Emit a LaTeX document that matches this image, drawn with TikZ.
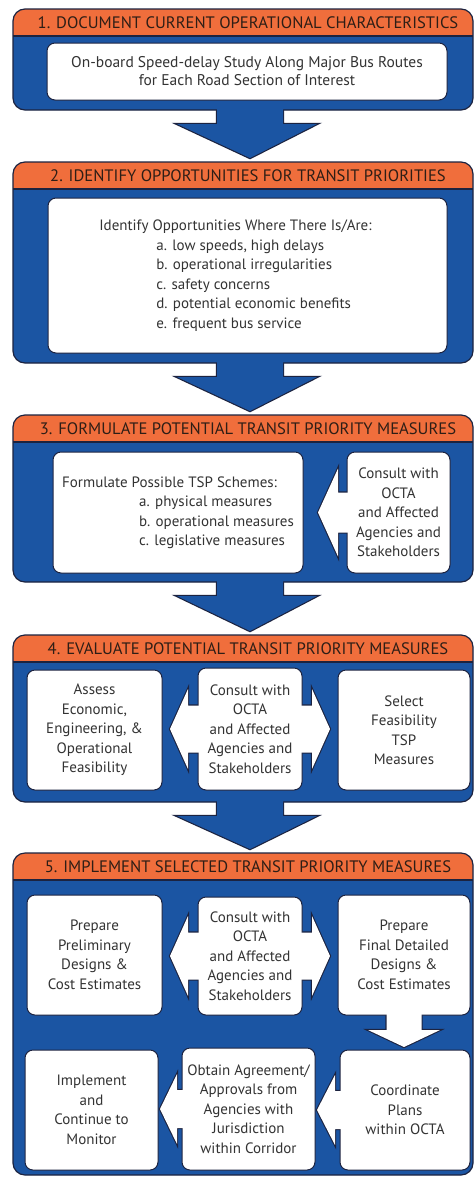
\documentclass[tikz,border=0pt]{standalone}
\usepackage{fontspec}
\setmainfont{PT Sans}
\usetikzlibrary{calc}
\definecolor{hdr}{HTML}{F06E3C}
\definecolor{pnl}{HTML}{1B55A3}
\definecolor{edge}{HTML}{1C2340}
\definecolor{txt}{HTML}{333333}
\definecolor{htxt}{HTML}{2E1E16}
\pgfdeclarelayer{bg}\pgfdeclarelayer{l0}\pgfdeclarelayer{l1}\pgfdeclarelayer{l2}\pgfdeclarelayer{l3}\pgfdeclarelayer{l4}
\pgfsetlayers{bg,l0,l1,l2,l3,main,l4}
\tikzset{
  panelnode/.style={fill=pnl, draw=none, rounded corners=12pt, minimum width=460pt, inner sep=0pt, outer sep=0pt},
  edgeline/.style={draw=edge, line width=1.2pt},
  hdrtext/.style={font=\fontsize{16.6}{19}\selectfont, text=htxt, inner sep=0pt},
  wbox/.style={fill=white, draw=edge, line width=1pt, rounded corners=8pt, inner sep=0pt, outer sep=0pt,
     font=\fontsize{15}{19.5}\selectfont, text=txt, align=center},
  bigstroke/.style={draw=edge, line width=2.4pt},
  bigfill/.style={fill=pnl},
  smallstroke/.style={draw=edge, line width=2.2pt},
  smallfill/.style={fill=white}
}
% panel: name, cx, cy, height, header text
\newcommand\mkpanel[5]{%
 \begin{pgfonlayer}{l1}
 \node[panelnode, minimum height=#4pt] (#1) at (#2,#3) {};
 \begin{scope}
  \clip[rounded corners=12pt] (#1.north west) rectangle (#1.south east);
  \fill[hdr] (#1.north west) rectangle ($(#1.north east)+(0,27)$);
 \end{scope}
 \draw[edgeline] ($(#1.north west)+(0,27)$) -- ($(#1.north east)+(0,27)$);
 \draw[edgeline, rounded corners=12pt] (#1.north west) rectangle (#1.south east);
 \node[hdrtext] (#1h) at ($(#1.north)+(5,14)$) {#5};
 \end{pgfonlayer}}
% big arrow between panels: style, from panel, to panel
\newcommand\bigarrowshape[3]{%
 \path[#1] ($(#2.south)+(-26,-6)$) -- ($(#2.south)+(-26,14)$) -- ($(#2.south)+(-66,14)$)
   -- ($(#2.south |- #3.north)+(7,-4)$) -- ($(#2.south)+(74,14)$) -- ($(#2.south)+(40,14)$)
   -- ($(#2.south)+(40,-6)$) -- cycle;}
\newcommand\bigarrow[2]{%
 \begin{pgfonlayer}{l0}\bigarrowshape{bigstroke}{#1}{#2}\end{pgfonlayer}
 \begin{pgfonlayer}{l2}\bigarrowshape{bigfill}{#1}{#2}\end{pgfonlayer}}
% block arrows: style, src, tgt, gap, headlen, headhalf, shafthalf
\newcommand\shapeL[7]{%
 \path[#1] ($(#2.west)+(5,-#7)$) -- ($(#3.east |- #2.west)+(#4+#5,-#7)$) -- ($(#3.east |- #2.west)+(#4+#5,-#6)$)
   -- ($(#3.east |- #2.west)+(#4,0)$) -- ($(#3.east |- #2.west)+(#4+#5,#6)$) -- ($(#3.east |- #2.west)+(#4+#5,#7)$)
   -- ($(#2.west)+(5,#7)$) -- cycle;}
\newcommand\shapeR[7]{%
 \path[#1] ($(#2.east)+(-5,-#7)$) -- ($(#3.west |- #2.east)+(-#4-#5,-#7)$) -- ($(#3.west |- #2.east)+(-#4-#5,-#6)$)
   -- ($(#3.west |- #2.east)+(-#4,0)$) -- ($(#3.west |- #2.east)+(-#4-#5,#6)$) -- ($(#3.west |- #2.east)+(-#4-#5,#7)$)
   -- ($(#2.east)+(-5,#7)$) -- cycle;}
\newcommand\shapeD[7]{%
 \path[#1] ($(#2.south)+(-#7,-5)$) -- ($(#2.south |- #3.north)+(-#7,-#4-#5)$) -- ($(#2.south |- #3.north)+(-#6,-#4-#5)$)
   -- ($(#2.south |- #3.north)+(0,-#4)$) -- ($(#2.south |- #3.north)+(#6,-#4-#5)$) -- ($(#2.south |- #3.north)+(#7,-#4-#5)$)
   -- ($(#2.south)+(#7,-5)$) -- cycle;}
\newcommand\blockL[6]{%
 \begin{pgfonlayer}{l3}\shapeL{smallstroke}{#1}{#2}{#3}{#4}{#5}{#6}\end{pgfonlayer}
 \begin{pgfonlayer}{l4}\shapeL{smallfill}{#1}{#2}{#3}{#4}{#5}{#6}\end{pgfonlayer}}
\newcommand\blockR[6]{%
 \begin{pgfonlayer}{l3}\shapeR{smallstroke}{#1}{#2}{#3}{#4}{#5}{#6}\end{pgfonlayer}
 \begin{pgfonlayer}{l4}\shapeR{smallfill}{#1}{#2}{#3}{#4}{#5}{#6}\end{pgfonlayer}}
\newcommand\blockD[6]{%
 \begin{pgfonlayer}{l3}\shapeD{smallstroke}{#1}{#2}{#3}{#4}{#5}{#6}\end{pgfonlayer}
 \begin{pgfonlayer}{l4}\shapeD{smallfill}{#1}{#2}{#3}{#4}{#5}{#6}\end{pgfonlayer}}

\begin{document}
\begin{tikzpicture}[x=1pt,y=-1pt]
\useasboundingbox (0,0) rectangle (474,1178);
\begin{pgfonlayer}{bg}\fill[white] (0,0) rectangle (474,1178);\end{pgfonlayer}

% panels
\mkpanel{p1}{243}{59.5}{101}{1. DOCUMENT CURRENT OPERATIONAL CHARACTERISTICS}
\mkpanel{p2}{243}{262.5}{201}{2. IDENTIFY OPPORTUNITIES FOR TRANSIT PRIORITIES}
\mkpanel{p3}{243}{498.5}{167}{3. FORMULATE POTENTIAL TRANSIT PRIORITY MEASURES}
\mkpanel{p4}{243}{718.5}{167}{4. EVALUATE POTENTIAL TRANSIT PRIORITY MEASURES}
\mkpanel{p5}{243}{1014}{322}{5. IMPLEMENT SELECTED TRANSIT PRIORITY MEASURES}

% white boxes
\node[wbox, minimum width=400pt, minimum height=57pt, font=\fontsize{15.5}{18}\selectfont] (b1) at (247,71.5)
  {On-board Speed-delay Study Along Major Bus Routes\\for Each Road Section of Interest};
\node[wbox, minimum width=399pt, minimum height=155pt] (b2) at (247.5,275.5)
  {\begin{tabular}{@{}l@{\hspace{24pt}}}Identify Opportunities Where There Is/Are:\\
   \hspace*{57pt}a. low speeds, high delays\\
   \hspace*{57pt}b. operational irregularities\\
   \hspace*{57pt}c. safety concerns\\
   \hspace*{57pt}d. potential economic benefits\\
   \hspace*{57pt}e. frequent bus service\end{tabular}};
\node[wbox, minimum width=250pt, minimum height=121pt] (b3a) at (178,512.5)
  {\begin{tabular}{@{}l@{}}Formulate Possible TSP Schemes:\\
   \hspace*{77pt}a. physical measures\\
   \hspace*{77pt}b. operational measures\\
   \hspace*{77pt}c. legislative measures\end{tabular}};
\node[wbox, minimum width=103pt, minimum height=121pt] (b3b) at (398.5,512.5)
  {Consult with\\OCTA\\and Affected\\Agencies and\\Stakeholders};

\node[wbox, minimum width=135pt, minimum height=120pt] (b4a) at (94.5,730)
  {Assess\\Economic,\\Engineering, \&\\Operational\\Feasibility};
\node[wbox, minimum width=104pt, minimum height=122pt] (b4b) at (250,729)
  {Consult with\\OCTA\\and Affected\\Agencies and\\Stakeholders};
\node[wbox, minimum width=132pt, minimum height=120pt] (b4c) at (404,730)
  {Select\\Feasibility\\TSP\\Measures};

\node[wbox, minimum width=135pt, minimum height=120pt] (b5a) at (94.5,955)
  {Prepare\\Preliminary\\Designs \&\\Cost Estimates};
\node[wbox, minimum width=104pt, minimum height=118pt] (b5b) at (250,956)
  {Consult with\\OCTA\\and Affected\\Agencies and\\Stakeholders};
\node[wbox, minimum width=132pt, minimum height=120pt] (b5c) at (404,955)
  {Prepare\\Final Detailed\\Designs \&\\Cost Estimates};
\node[wbox, minimum width=130pt, minimum height=120pt] (b5d) at (405,1110)
  {Coordinate\\Plans\\within OCTA};
\node[wbox, minimum width=133pt, minimum height=122pt] (b5e) at (248.5,1109)
  {Obtain Agreement/\\Approvals from\\Agencies with\\Jurisdiction\\within Corridor};
\node[wbox, minimum width=133pt, minimum height=120pt] (b5f) at (91.5,1110)
  {Implement\\and\\Continue to\\Monitor};

% big arrows between stages
\bigarrow{p1}{p2}
\bigarrow{p2}{p3}
\bigarrow{p3}{p4}
\bigarrow{p4}{p5}

% small block arrows
\blockL{b3b}{b3a}{15}{20}{44}{20}
\blockL{b4b}{b4a}{8}{18}{40}{23.5}
\blockR{b4b}{b4c}{8}{18}{40}{23.5}
\blockL{b5b}{b5a}{8}{18}{40}{23.5}
\blockR{b5b}{b5c}{8}{18}{40}{23.5}
\blockD{b5c}{b5d}{3}{17}{36}{17.5}
\blockL{b5d}{b5e}{2}{18}{35}{19}
\blockL{b5e}{b5f}{2}{17}{35}{19}
\end{tikzpicture}
\end{document}
